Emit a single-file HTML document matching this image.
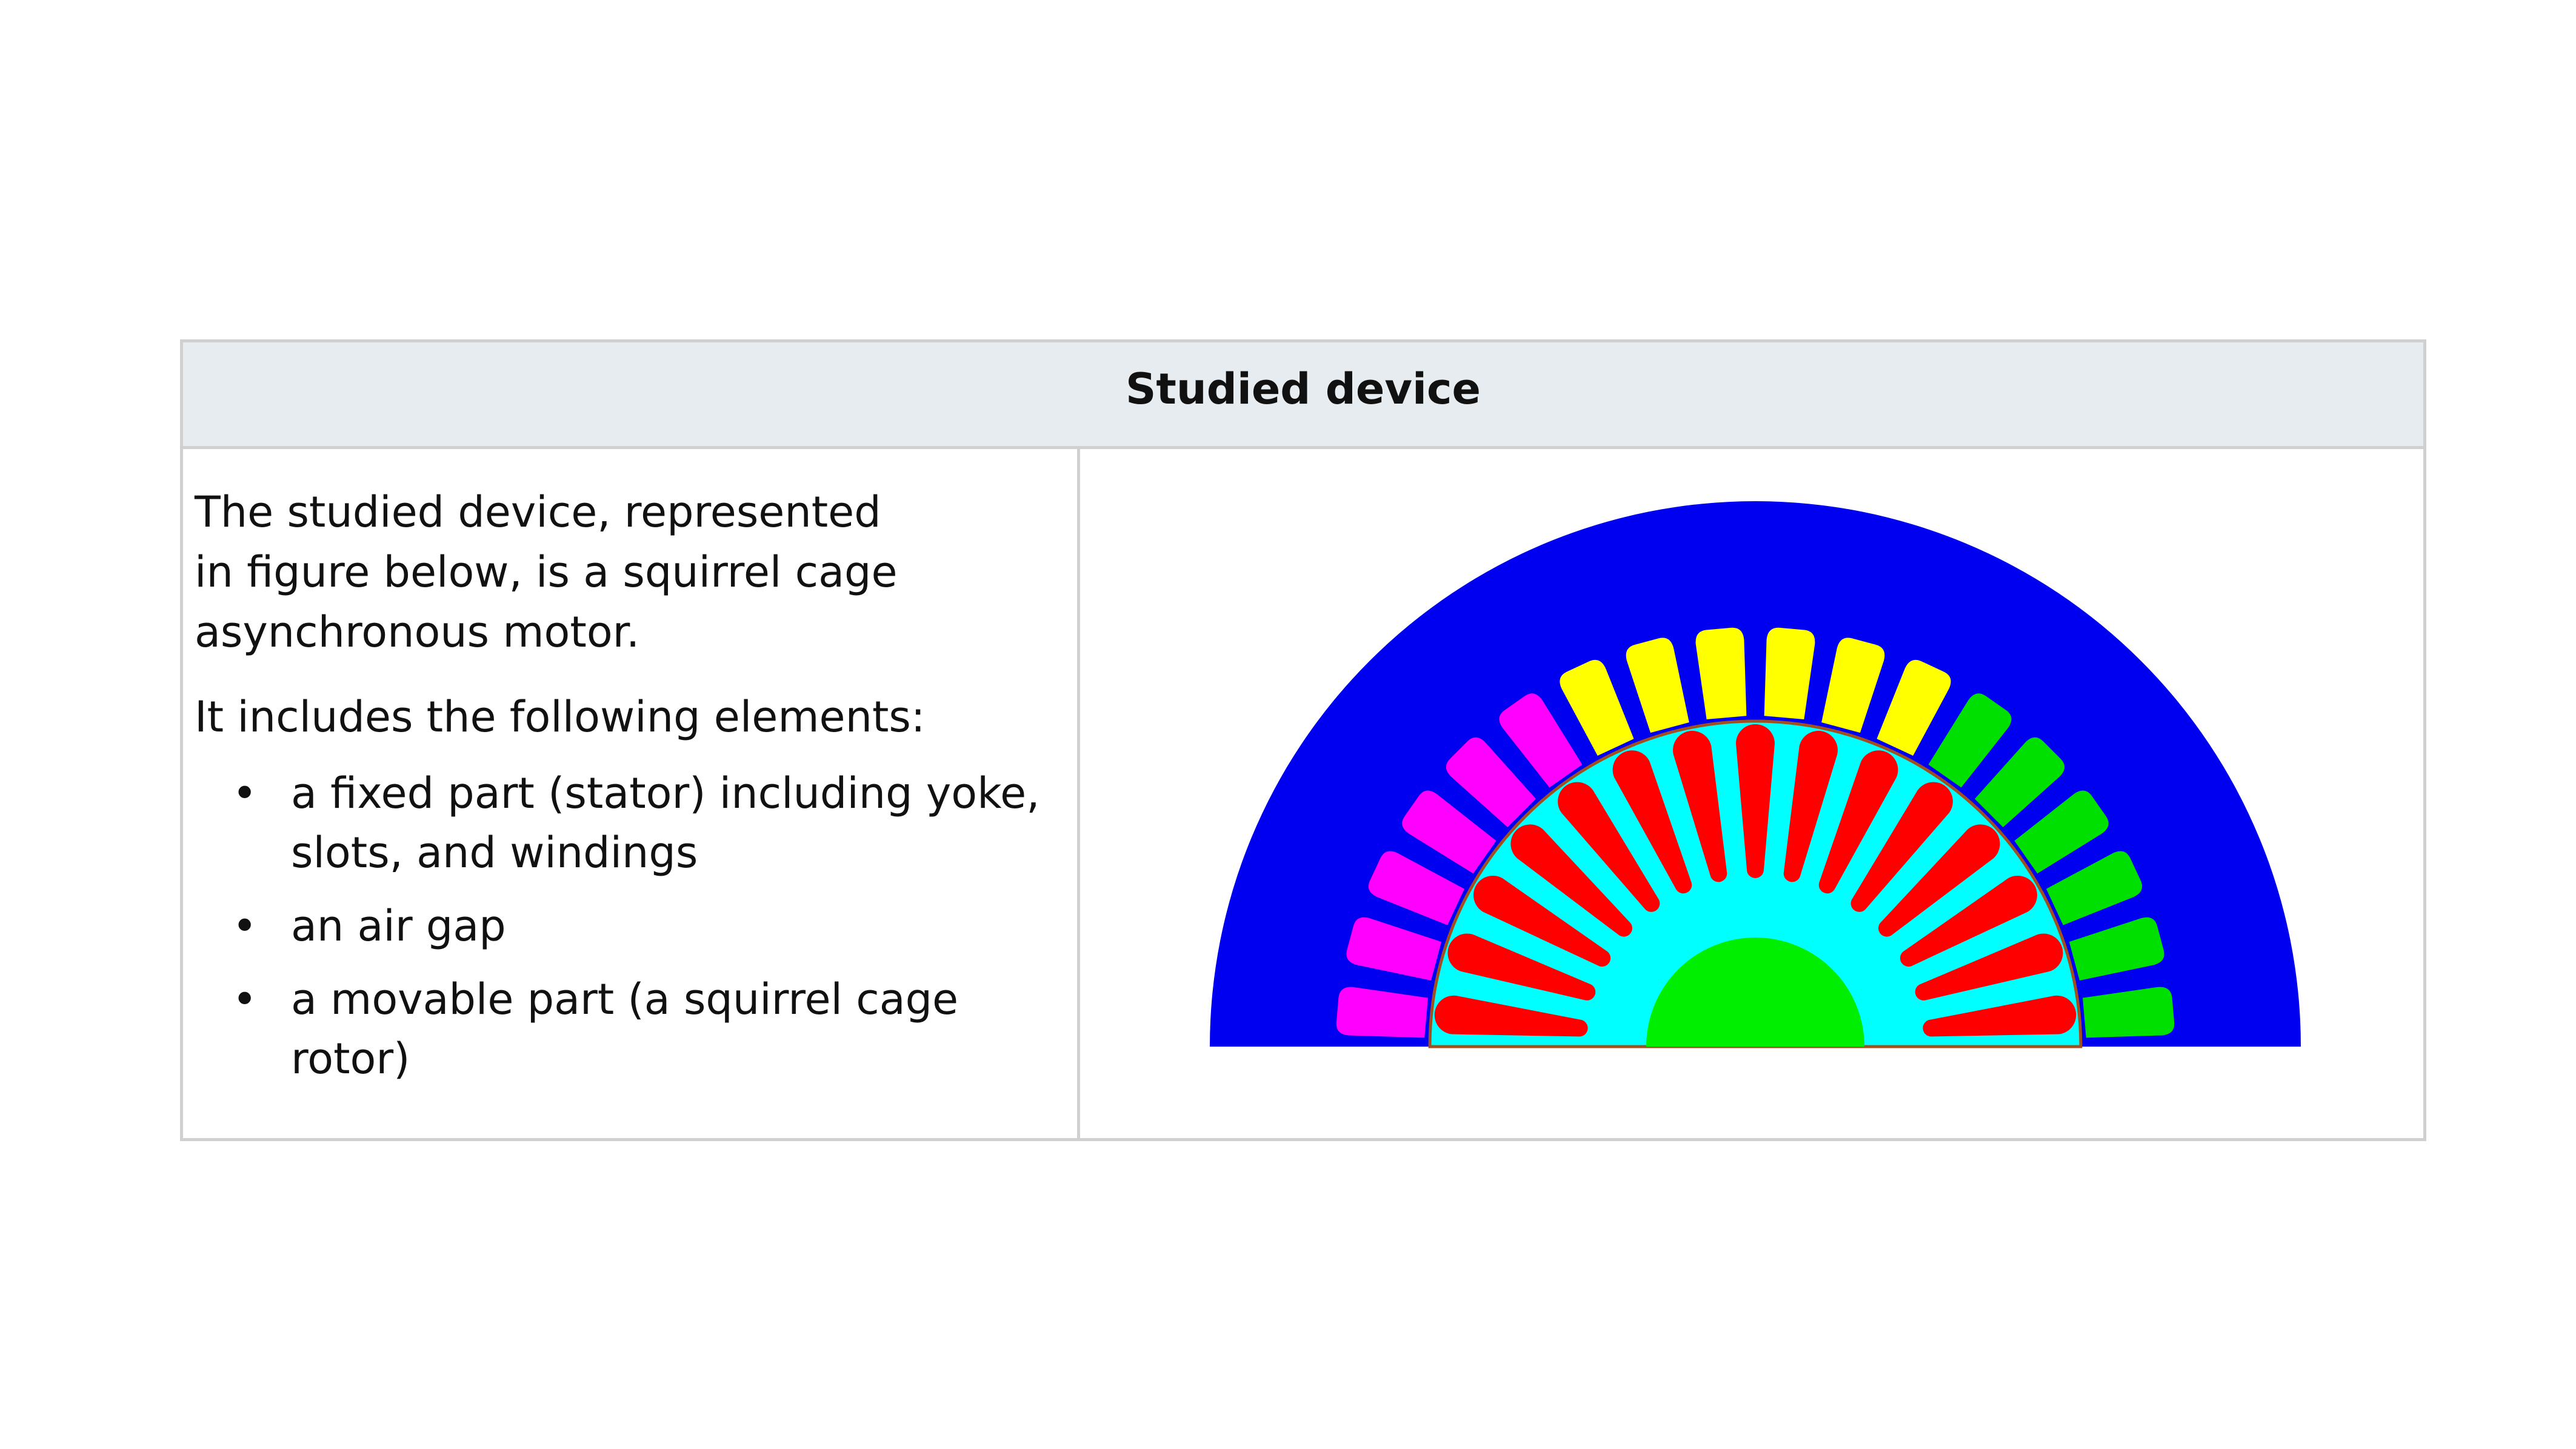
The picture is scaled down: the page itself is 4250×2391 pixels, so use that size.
<!DOCTYPE html>
<html><head><meta charset="utf-8"><style>
body{margin:0;width:4250px;height:2391px;background:#fff;position:relative;overflow:hidden;font-family:"DejaVu Sans","Liberation Sans",sans-serif;color:#111}
.box{position:absolute;border:5px solid #d0d0d0;box-sizing:border-box}
.t{position:absolute;font-size:70px;white-space:nowrap;line-height:1}
</style></head><body>
<div class="box" style="left:297px;top:560px;width:3706px;height:1323px"></div>
<div style="position:absolute;left:302px;top:565px;width:3696px;height:171px;background:#e6ecef;border-bottom:5px solid #d0d0d0"></div>
<div style="position:absolute;left:1777px;top:738px;width:5px;height:1142px;background:#d0d0d0"></div>
<div class="t" style="left:0;width:4300px;text-align:center;top:607px;font-weight:bold;font-size:70px">Studied device</div>
<div class="t" style="left:321px;top:810px">The studied device, represented</div>
<div class="t" style="left:321px;top:909px">in figure below, is a squirrel cage</div>
<div class="t" style="left:321px;top:1008px">asynchronous motor.</div>
<div class="t" style="left:321px;top:1148px">It includes the following elements:</div>
<div class="t" style="left:383px;top:1274px">•</div><div class="t" style="left:480px;top:1274px">a fixed part (stator) including yoke,</div>
<div class="t" style="left:480px;top:1372px">slots, and windings</div>
<div class="t" style="left:383px;top:1493px">•</div><div class="t" style="left:480px;top:1493px">an air gap</div>
<div class="t" style="left:383px;top:1614px">•</div><div class="t" style="left:480px;top:1614px">a movable part (a squirrel cage</div>
<div class="t" style="left:480px;top:1712px">rotor)</div>
<svg id="m" width="4250" height="2391" style="position:absolute;left:0;top:0">
<path d="M1996,1727 A900,900 0 0 1 3796,1727 Z" fill="#0000f0"/>
<g id="slots"></g>
<path d="M2359,1727 A537,537 0 0 1 3433,1727 Z" fill="#00ffff" stroke="#a05020" stroke-width="5"/>
<g id="bars"></g>
<path d="M2716,1727 A180,180 0 0 1 3076,1727 Z" fill="#00ee00"/>
</svg>
<script>
var ns="http://www.w3.org/2000/svg",cx=2896,cy=1727;
var s=document.getElementById("slots"),b=document.getElementById("bars");
for(var i=0;i<18;i++){var a=5+10*i;var c=a<60?"#00e000":(a<120?"#ffff00":"#ff00ff");
var p=document.createElementNS(ns,"path");p.setAttribute("d","M545,-33 L670,-40 Q692,-40 692,-20 L692,20 Q692,40 670,40 L545,33 Z");
p.setAttribute("fill",c);p.setAttribute("transform","translate("+cx+","+cy+") rotate("+(-a)+")");s.appendChild(p);}
for(var i=0;i<15;i++){var a=6+12*i;
var p=document.createElementNS(ns,"path");p.setAttribute("d","M292,-14 L500,-32 A32,32 0 0 1 500,32 L292,14 A14,14 0 0 1 292,-14 Z");
p.setAttribute("fill","#ff0000");p.setAttribute("transform","translate("+cx+","+cy+") rotate("+(-a)+")");b.appendChild(p);}
</script>
</body></html>
